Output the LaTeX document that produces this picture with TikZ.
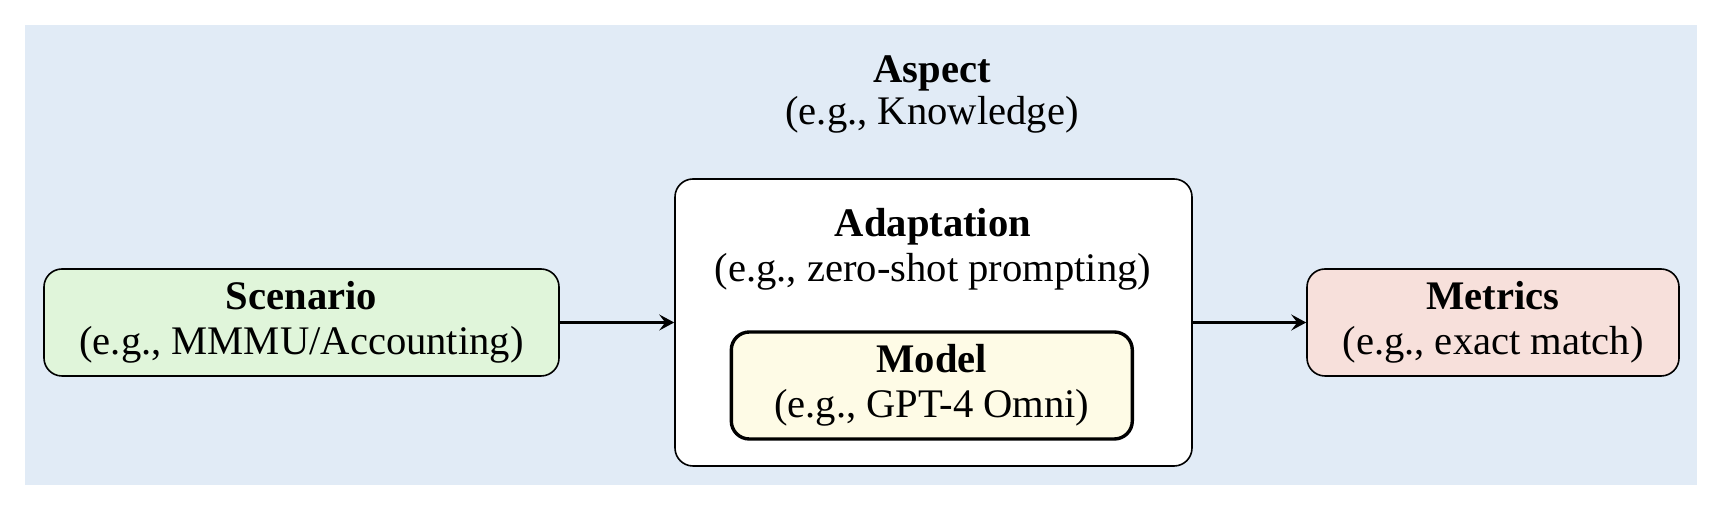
\documentclass[tikz,border=0pt]{standalone}
\usepackage{fontspec}
\setmainfont{Liberation Serif}
\usetikzlibrary{arrows.meta}
\definecolor{bgblue}{RGB}{225,235,246}
\definecolor{scengreen}{RGB}{224,245,218}
\definecolor{modelyellow}{RGB}{254,251,230}
\definecolor{metricpink}{RGB}{247,224,219}
\begin{document}
\begin{tikzpicture}[x=0.5pt,y=-0.5pt,
  txt/.style={font=\fontsize{20.3}{22.3}\selectfont, align=center, inner sep=0pt},
  box/.style={txt, draw=black, line width=0.8pt, rounded corners=9pt, minimum height=53.5pt},
  conn/.style={line width=1.2pt, -{Stealth[length=7.5pt,width=8pt,inset=3pt]}}]
\useasboundingbox (0,0) rectangle (1729,506);
\fill[bgblue] (25,25) rectangle (1697,485);
\node[txt] (aspect) at (932,94.6) {\textbf{Aspect}\\[-1pt](e.g., Knowledge)};
\node[box, fill=scengreen, minimum width=257.5pt] (scen) at (301.5,322.5)
  {\textbf{Scenario}\\(e.g., MMMU/Accounting)};
\node[box, fill=white, minimum width=258.5pt, minimum height=143.5pt] (adapt) at (933.5,322.5) {};
\node[txt] (adapttext) at (933,249.5) {\textbf{Adaptation}\\(e.g., zero-shot prompting)};
\node[box, fill=modelyellow, line width=1.7pt, minimum width=200.5pt] (model) at (931.8,385.5)
  {\textbf{Model}\\(e.g., GPT-4 Omni)};
\node[box, fill=metricpink, minimum width=186pt] (metrics) at (1493,322.5)
  {\textbf{Metrics}\\(e.g., exact match)};
\draw[conn] (scen.east) -- (adapt.west);
\draw[conn] (adapt.east) -- (metrics.west);
\end{tikzpicture}
\end{document}
